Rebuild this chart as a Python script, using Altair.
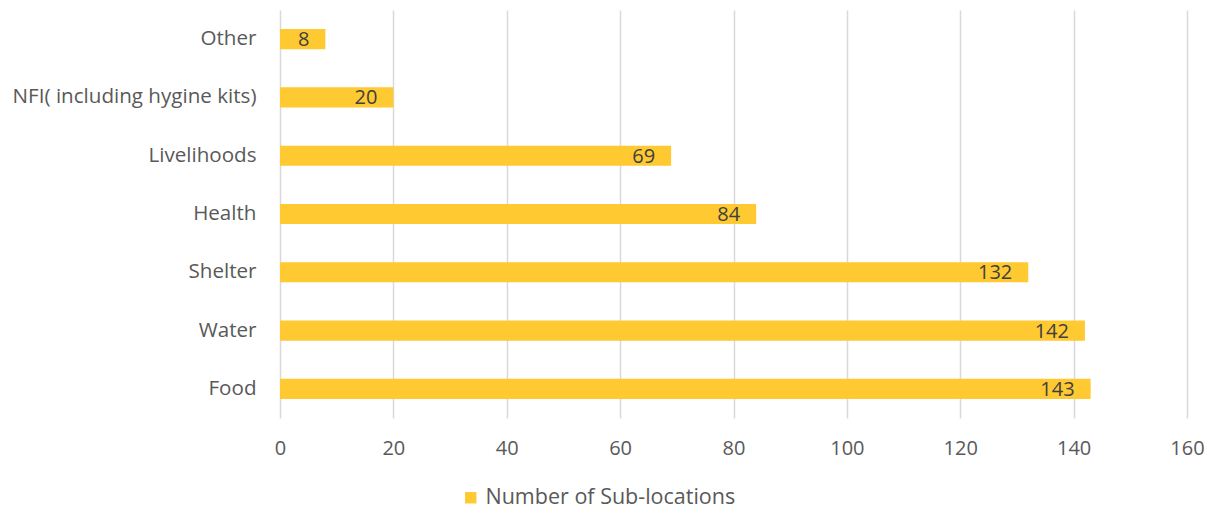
import altair as alt
import pandas as pd

categories = ["Other", "NFI( including hygine kits)", "Livelihoods", "Health", "Shelter", "Water", "Food"]
values = [8, 20, 69, 84, 132, 142, 143]
series_name = "Number of Sub-locations"
x_ticks = [0, 20, 40, 60, 80, 100, 120, 140, 160]

df = pd.DataFrame({"category": categories, "value": values, "series": series_name})

FONT = "Open Sans"
FS = 20
y_enc = alt.Y("category:N", sort=categories,
              scale=alt.Scale(paddingInner=0.655, paddingOuter=0.3275),
              axis=alt.Axis(title=None, domain=False, ticks=False, labelPadding=24, labelLimit=400,
                            labelFontSize=20.6, labelColor="#595959", labelFont=FONT))

bars = alt.Chart(df).mark_bar(color="#FFC931").encode(
    x=alt.X("value:Q", scale=alt.Scale(domain=[0, 160], nice=False),
            axis=alt.Axis(title=None, values=x_ticks, domain=False, ticks=False, labelFlush=False,
                          labelPadding=20, labelFontSize=FS, labelColor="#595959",
                          labelFont=FONT, grid=True, gridColor="#D9D9D9", gridWidth=1.5)),
    y=y_enc,
    color=alt.Color("series:N", scale=alt.Scale(range=["#FFC931"]),
                    legend=alt.Legend(title=None, orient="none", legendX=180, legendY=477,
                                      symbolType="square", symbolSize=130, labelFontSize=21.5,
                                      labelLimit=400, labelColor="#595959", labelFont=FONT,
                                      symbolStrokeWidth=0)),
)

labels = alt.Chart(df).mark_text(align="right", baseline="middle", dx=-16, dy=1,
                                 fontSize=FS, color="#404040", font=FONT).encode(
    x="value:Q", y=alt.Y("category:N", sort=categories), text="value:Q")

chart = (bars + labels).properties(
    width=907, height=408,
    autosize=alt.AutoSizeParams(type="none"),
    padding={"left": 280, "top": 10, "right": 27, "bottom": 93},
).configure_view(stroke=None)

chart.save("out.html", embed_options={"renderer": "svg", "actions": False})
